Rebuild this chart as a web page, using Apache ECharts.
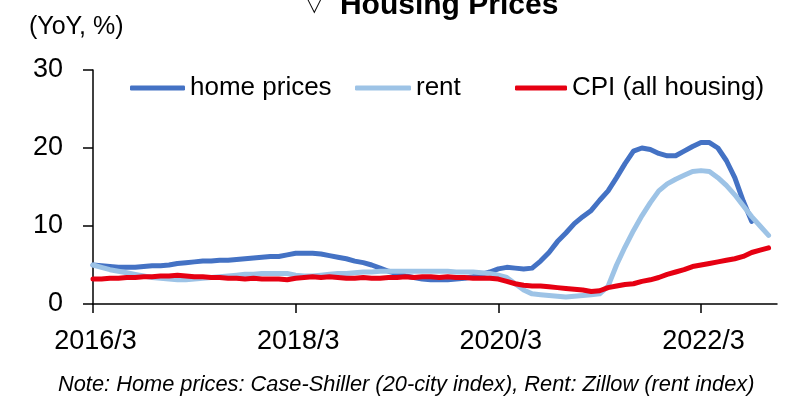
<!DOCTYPE html>
<html>
<head>
<meta charset="utf-8">
<script src="https://cdn.jsdelivr.net/npm/echarts@6/dist/echarts.min.js"></script>
<style>
  html, body { margin: 0; padding: 0; background: #fff; }
  #chart { width: 790px; height: 402px; }
</style>
</head>
<body>
<div id="chart"></div>
<script>
"use strict";

// monthly, 2016/3 .. 2022/12
var months = [];
for (var y = 2016; y <= 2022; y++) {
	for (var m = (y === 2016 ? 3 : 1); m <= 12; m++) {
		months.push(y + '/' + m);
	}
}

// YoY %
var homePrices = [
	5.0, 4.9, 4.8, 4.7, 4.7, 4.7, 4.8, 4.9, 4.9, 5.0, 5.2, 5.3,
	5.4, 5.5, 5.5, 5.6, 5.6, 5.7, 5.8, 5.9, 6.0, 6.1, 6.1, 6.3,
	6.5, 6.5, 6.5, 6.4, 6.2, 6.0, 5.8, 5.5, 5.3, 5.0, 4.6, 4.2,
	3.9, 3.6, 3.4, 3.2, 3.1, 3.1, 3.1, 3.2, 3.3, 3.5, 3.8, 4.1,
	4.5, 4.7, 4.6, 4.5, 4.6, 5.5, 6.6, 8.0, 9.1, 10.3, 11.2, 12.0,
	13.3, 14.5, 16.2, 18.0, 19.6, 20.0, 19.8, 19.3, 19.0, 19.0, 19.6, 20.2,
	20.7, 20.7, 20.0, 18.4, 16.2, 13.2, 10.6, null, null, null
];
var rent = [
	5.0, 4.7, 4.4, 4.2, 4.0, 3.8, 3.6, 3.4, 3.3, 3.2, 3.1, 3.1,
	3.2, 3.3, 3.4, 3.5, 3.6, 3.7, 3.8, 3.8, 3.9, 3.9, 3.9, 3.9,
	3.7, 3.6, 3.6, 3.7, 3.8, 3.9, 3.9, 4.0, 4.1, 4.1, 4.2, 4.2,
	4.2, 4.2, 4.2, 4.2, 4.2, 4.2, 4.2, 4.1, 4.1, 4.1, 4.0, 3.9,
	3.7, 3.4, 2.6, 1.8, 1.3, 1.2, 1.1, 1.0, 0.9, 1.0, 1.1, 1.2,
	1.3, 2.3, 5.0, 7.3, 9.4, 11.3, 13.0, 14.5, 15.4, 16.0, 16.5, 17.0,
	17.1, 17.0, 16.2, 15.2, 14.0, 12.6, 11.2, 10.0, 8.8, null
];
var cpiHousing = [
	3.2, 3.2, 3.3, 3.3, 3.4, 3.4, 3.5, 3.5, 3.6, 3.6, 3.7, 3.6,
	3.5, 3.5, 3.4, 3.4, 3.3, 3.3, 3.2, 3.3, 3.2, 3.2, 3.2, 3.1,
	3.3, 3.4, 3.5, 3.4, 3.5, 3.4, 3.3, 3.3, 3.4, 3.3, 3.3, 3.4,
	3.4, 3.5, 3.4, 3.5, 3.5, 3.4, 3.5, 3.4, 3.4, 3.3, 3.3, 3.3,
	3.2, 2.9, 2.6, 2.4, 2.3, 2.3, 2.2, 2.1, 2.0, 1.9, 1.8, 1.6,
	1.7, 2.1, 2.3, 2.5, 2.6, 2.9, 3.1, 3.4, 3.8, 4.1, 4.4, 4.8,
	5.0, 5.2, 5.4, 5.6, 5.8, 6.1, 6.6, 6.9, 7.2, null
];

var yTicks = [0, 10, 20, 30];

var sans = "'Liberation Sans', Arial, sans-serif";

var myChart = echarts.init(document.getElementById('chart'), null, { renderer: 'canvas' });

function legendAt(name, left, width) {
	return {
		data: [name],
		left: left,
		top: 75,
		padding: 0,
		icon: 'roundRect',
		itemWidth: width,
		itemHeight: 5,
		itemGap: 0,
		textStyle: { fontFamily: sans, fontSize: 26, color: '#000' }
	};
}

var option = {
	animation: false,
	backgroundColor: '#fff',
	title: [{
		text: '{tri|▽} Housing Prices',
		left: 302,
		top: -14,
		textStyle: {
			fontFamily: sans,
			fontSize: 30,
			fontWeight: 'bold',
			color: '#000',
			rich: {
				tri: { fontFamily: "'DejaVu Sans', sans-serif", fontSize: 19, fontWeight: 'normal', color: '#000', padding: [0, 10, 0, 0] }
			}
		}
	}, {
		text: '(YoY, %)',
		left: 24,
		top: 10,
		textStyle: { fontFamily: sans, fontSize: 25, fontWeight: 'normal', color: '#000' }
	}, {
		text: 'Note: Home prices: Case-Shiller (20-city index), Rent: Zillow (rent index)',
		left: 53,
		top: 369,
		textStyle: { fontFamily: sans, fontSize: 21.8, fontStyle: 'italic', fontWeight: 'normal', color: '#000' }
	}],
	legend: [
		legendAt('home prices', 130, 55),
		legendAt('rent', 355, 56),
		legendAt('CPI (all housing)', 515, 52)
	],
	grid: { left: 93, right: 13, top: 70, bottom: 98, containLabel: false },
	xAxis: {
		type: 'category',
		data: months,
		boundaryGap: false,
		axisLine: { lineStyle: { color: '#000', width: 1.5 } },
		axisTick: { interval: 23, length: 9, lineStyle: { color: '#000', width: 1.5 } },
		axisLabel: {
			interval: 23,
			margin: 24,
			fontFamily: sans,
			fontSize: 27,
			color: '#000',
			padding: [0, 0, 0, 5]
		},
		splitLine: { show: false }
	},
	yAxis: {
		type: 'value',
		min: yTicks[0],
		max: yTicks[yTicks.length - 1],
		interval: 10,
		axisLine: { show: true, lineStyle: { color: '#000', width: 1.5 } },
		axisTick: { show: true, length: 10, lineStyle: { color: '#000', width: 1.5 } },
		axisLabel: {
			margin: 30,
			fontFamily: sans,
			fontSize: 27,
			color: '#000'
		},
		splitLine: { show: false }
	},
	series: [{
		name: 'home prices',
		type: 'line',
		data: homePrices,
		showSymbol: false,
		symbol: 'none',
		itemStyle: { color: '#4472C4' },
		lineStyle: { color: '#4472C4', width: 5, cap: 'round', join: 'round' }
	}, {
		name: 'rent',
		type: 'line',
		data: rent,
		showSymbol: false,
		symbol: 'none',
		itemStyle: { color: '#9DC3E6' },
		lineStyle: { color: '#9DC3E6', width: 5, cap: 'round', join: 'round' }
	}, {
		name: 'CPI (all housing)',
		type: 'line',
		data: cpiHousing,
		showSymbol: false,
		symbol: 'none',
		itemStyle: { color: '#E60012' },
		lineStyle: { color: '#E60012', width: 5, cap: 'round', join: 'round' }
	}]
};

myChart.setOption(option);
</script>
</body>
</html>
